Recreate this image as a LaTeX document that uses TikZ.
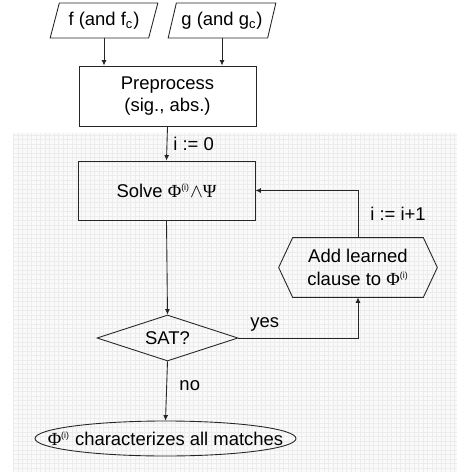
\documentclass[tikz,border=0pt]{standalone}
\usepackage{fontspec}
\setmainfont{Liberation Sans}
\newfontfamily\grk{Liberation Serif}
\usepackage{tikz}
\usetikzlibrary{positioning, arrows.meta, calc}
\usetikzlibrary{shapes.geometric}
\definecolor{cGrid}{RGB}{236,236,236}
\definecolor{cBack}{RGB}{250,250,250}
\newcommand{\Phii}{{\grk Φ}\textsuperscript{\tiny(i)}}

\tikzset{
  flow/.style={line width=0.5pt, draw=black!85},
  txt/.style={font=\fontsize{10.5pt}{13pt}\selectfont, align=center},
  inbox/.style={txt, trapezium, draw, flow, trapezium left angle=67, trapezium right angle=113,
    trapezium stretches=true, minimum width=21.6mm, minimum height=7mm, inner sep=0pt},
  stepbox/.style={txt, rectangle, draw, flow, minimum width=35.4mm, minimum height=12mm},
  test/.style={txt, diamond, draw, flow, aspect=3, minimum width=28.2mm, minimum height=9.2mm, inner sep=0pt}
}

\begin{document}
\begin{tikzpicture}[>={Latex[length=1.1mm, width=1mm]}, x=0.2mm, y=-0.2mm]
    \useasboundingbox (0,0) rectangle (457,472);

    % --- Grid background ---
    \fill[cBack] (13,133) rectangle (457,472);
    \draw[cGrid, step=0.9mm, line width=0.3pt] (13,133) grid (457,472);

    % --- Inputs ---
    \node[inbox] (f) at (104, 20.5) {f (and f\textsubscript{c})};
    \node[inbox] (g) at (222, 20.5) {g (and g\textsubscript{c})};

    % --- Preprocess and solve ---
    \node[stepbox] (pre) at (167.5, 96) {Preprocess\\(sig., abs.)};
    \node[stepbox, minimum height=11.8mm] (solve) at (166.5, 190.5) {Solve \Phii$\wedge${\grk Ψ}};

    % --- Decision ---
    \node[test] (sat) at (167.5, 338) {SAT?};

    % --- Learned clause (hexagon) ---
    \node[txt, minimum width=31.6mm, minimum height=11.8mm] (add) at (358, 267.5) {Add learned\\clause to \Phii};
    \draw[flow] (add.west) -- ([xshift=2.8mm]add.north west) -- ([xshift=-2.8mm]add.north east)
        -- (add.east) -- ([xshift=-2.8mm]add.south east) -- ([xshift=2.8mm]add.south west) -- cycle;

    % --- Result ---
    \node[txt, minimum width=52.2mm, minimum height=7mm, inner sep=0pt] (stop) at (165.5, 438.5)
        {\Phii\ characterizes all matches};
    \draw[flow] (stop.center) ellipse (26.1mm and 3.5mm);

    % --- Connectors ---
    \draw[flow, ->] (f.south) -- (f.south |- pre.north);
    \draw[flow, ->] (g.south) -- (g.south |- pre.north);
    \draw[flow, ->] (pre.south) -- (solve.north) node[txt, midway, right] {i := 0};
    \draw[flow, ->] (solve.south) -- (sat.north);
    \draw[flow, ->] (sat.east) -| (add.south) node[txt, pos=0.11, above] {yes};
    \draw[flow, ->] (add.north) |- (solve.east) node[txt, pos=0.25, right=1.2mm] {i := i+1};
    \draw[flow, ->] (sat.south) -- (stop.north) node[txt, pos=0.4, right=1.3mm] {no};

\end{tikzpicture}
\end{document}
